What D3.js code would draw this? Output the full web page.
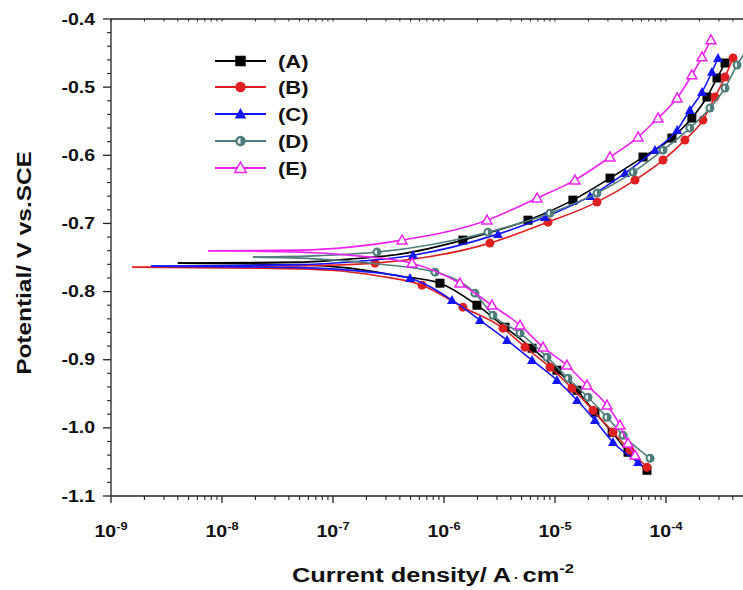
<!DOCTYPE html>
<html>
<head>
<meta charset="utf-8">
<script src="https://cdn.jsdelivr.net/npm/d3@7"></script>
<style>
  html, body { margin: 0; padding: 0; background: #fff; }
  svg { display: block; }
  text { font-family: "Liberation Sans", Arial, sans-serif; font-weight: bold; fill: #111; }
</style>
</head>
<body>
<div id="chart"></div>
<script>
// ---------------- DATA ----------------
const seriesLabels = ["(A)", "(B)", "(C)", "(D)", "(E)"];
const seriesColors = ["#000000", "#e02020", "#1414ff", "#4f7d7b", "#ee22ee"];
const seriesSymbols = ["square", "circle", "triangle", "halfcircle", "opentriangle"];

const yTicks = [-0.4, -0.5, -0.6, -0.7, -0.8, -0.9, -1.0, -1.1];
const yTickLabels = ["-0.4", "-0.5", "-0.6", "-0.7", "-0.8", "-0.9", "-1.0", "-1.1"];
const xTickExponents = [-9, -8, -7, -6, -5, -4, -3];

// [current density A/cm2, potential V]
const A_tip = [4.0e-9, -0.7583];
const A_cathNear = [[5.05e-8, -0.7605], [1.42e-7, -0.7656], [4.02e-7, -0.7774]];
const A_cath = [[9.2e-7, -0.7877], [1.98e-6, -0.8200], [3.55e-6, -0.8523], [6.21e-6, -0.8831],
  [1.04e-5, -0.9154], [1.58e-5, -0.9448], [2.29e-5, -0.9771], [3.27e-5, -1.0065],
  [4.55e-5, -1.0358], [6.74e-5, -1.0623]];
const A_anodNear = [[5.05e-8, -0.7568], [1.42e-7, -0.7524], [4.02e-7, -0.7451]];
const A_anod = [[1.48e-6, -0.7245], [5.71e-6, -0.6952], [1.45e-5, -0.6658], [3.13e-5, -0.6335],
  [6.21e-5, -0.6026], [1.13e-4, -0.5747], [1.71e-4, -0.5454], [2.34e-4, -0.5145],
  [2.88e-4, -0.4866], [3.40e-4, -0.4646]];

const B_tip = [1.55e-9, -0.7642];
const B_cathNear = [[2.2e-8, -0.7656], [9.4e-8, -0.7686], [2.65e-7, -0.7774]];
const B_cath = [[6.34e-7, -0.7906], [1.48e-6, -0.8229], [3.40e-6, -0.8537], [5.37e-6, -0.8816],
  [9.02e-6, -0.9110], [1.42e-5, -0.9419], [2.20e-5, -0.9742], [3.33e-5, -1.0065],
  [4.74e-5, -1.0329], [6.74e-5, -1.0579]];
const B_anodNear = [[2.2e-8, -0.7627], [9.4e-8, -0.7612]];
const B_anod = [[2.39e-7, -0.7583], [2.59e-6, -0.7289], [8.65e-6, -0.6981], [2.39e-5, -0.6687],
  [5.26e-5, -0.6364], [9.4e-5, -0.6070], [1.48e-4, -0.5777], [2.15e-4, -0.5483],
  [2.76e-4, -0.5145], [3.40e-4, -0.4852], [4.02e-4, -0.4573]];

const C_tip = [2.3e-9, -0.7627];
const C_cathNear = [[5.05e-8, -0.7649], [1.75e-7, -0.7700]];
const C_cath = [[4.94e-7, -0.7803], [1.18e-6, -0.8126], [2.11e-6, -0.8420], [3.70e-6, -0.8714],
  [6.21e-6, -0.9007], [1.04e-5, -0.9301], [1.58e-5, -0.9595], [2.29e-5, -0.9888],
  [3.33e-5, -1.0211], [5.6e-5, -1.0505]];
const C_anodNear = [[5.05e-8, -0.7605], [1.75e-7, -0.7554]];
const C_anod = [[5.26e-7, -0.7466], [3.06e-6, -0.7157], [8.13e-6, -0.6907], [2.07e-5, -0.6599],
  [4.28e-5, -0.6261], [7.96e-5, -0.5924], [1.26e-4, -0.5630], [1.64e-4, -0.5336],
  [2.11e-4, -0.5072], [2.59e-4, -0.4778], [2.94e-4, -0.4573]];

const D_tip = [1.90e-8, -0.7495];
const D_cathNear = [[7.64e-8, -0.7524], [2.65e-7, -0.7598]];
const D_cath = [[8.30e-7, -0.7715], [1.90e-6, -0.8023], [2.76e-6, -0.8347], [4.84e-6, -0.8611],
  [8.47e-6, -0.8963], [1.31e-5, -0.9272], [1.98e-5, -0.9551], [2.94e-5, -0.9844],
  [4.10e-5, -1.0109], [7.18e-5, -1.0446]];
const D_anodNear = [[7.64e-8, -0.7473]];
const D_anod = [[2.49e-7, -0.7421], [2.49e-6, -0.7128], [9.02e-6, -0.6849], [2.39e-5, -0.6555],
  [5.05e-5, -0.6247], [9.4e-5, -0.5924], [1.64e-4, -0.5601], [2.49e-4, -0.5307],
  [3.40e-4, -0.5013], [4.37e-4, -0.4675], [5.48e-4, -0.4426]];

const E_tip = [7.48e-9, -0.7402];
const E_cathNear = [[5.05e-8, -0.7421], [1.75e-7, -0.7480]];
const E_cath = [[5.15e-7, -0.7583], [1.39e-6, -0.7877], [2.70e-6, -0.8200], [4.84e-6, -0.8493],
  [7.80e-6, -0.8816], [1.28e-5, -0.9081], [1.94e-5, -0.9374], [2.94e-5, -0.9668],
  [3.85e-5, -0.9962], [4.55e-5, -1.0226], [5.26e-5, -1.0402]];
const E_anodNear = [[5.05e-8, -0.7392], [1.42e-7, -0.7348]];
const E_anod = [[4.19e-7, -0.7245], [2.44e-6, -0.6952], [6.89e-6, -0.6628], [1.51e-5, -0.6364],
  [3.13e-5, -0.6026], [5.6e-5, -0.5733], [8.47e-5, -0.5454], [1.26e-4, -0.5160],
  [1.71e-4, -0.4822], [2.11e-4, -0.4558], [2.54e-4, -0.4308]];

const allSeries = [
  { tip: A_tip, cn: A_cathNear, c: A_cath, an: A_anodNear, a: A_anod },
  { tip: B_tip, cn: B_cathNear, c: B_cath, an: B_anodNear, a: B_anod },
  { tip: C_tip, cn: C_cathNear, c: C_cath, an: C_anodNear, a: C_anod },
  { tip: D_tip, cn: D_cathNear, c: D_cath, an: D_anodNear, a: D_anod },
  { tip: E_tip, cn: E_cathNear, c: E_cath, an: E_anodNear, a: E_anod }
];

// ---------------- LAYOUT ----------------
const W = 743, H = 590;
const plotLeft = 111, plotTop = 19, plotBottom = 496;
const decade = 111;
const stretch = 1.22; // horizontal text stretch seen in the reference

const svg = d3.select("#chart").append("svg").attr("width", W).attr("height", H);

const x = d3.scaleLog().domain([1e-9, 1e-3]).range([plotLeft, plotLeft + 6 * decade]);
const y = d3.scaleLinear().domain([-0.4, -1.1]).range([plotTop, plotBottom]);

// ---------------- AXES ----------------
const axisColor = "#222";
const xMinor = [];
for (let e = -9; e < -3; e++) for (let m = 2; m <= 9; m++) xMinor.push(m * Math.pow(10, e));
const gx = svg.append("g");
gx.append("line").attr("x1", plotLeft).attr("x2", W + 10).attr("y1", plotBottom).attr("y2", plotBottom)
  .attr("stroke", axisColor).attr("stroke-width", 1.3);
gx.selectAll("line.maj").data(xTickExponents).enter().append("line")
  .attr("x1", d => x(Math.pow(10, d))).attr("x2", d => x(Math.pow(10, d)))
  .attr("y1", plotBottom).attr("y2", plotBottom + 7).attr("stroke", axisColor).attr("stroke-width", 1.3);
gx.selectAll("line.min").data(xMinor).enter().append("line")
  .attr("x1", d => x(d)).attr("x2", d => x(d))
  .attr("y1", plotBottom).attr("y2", plotBottom + 4).attr("stroke", axisColor).attr("stroke-width", 1.1);
// top axis
svg.append("line").attr("x1", plotLeft).attr("x2", W + 10).attr("y1", plotTop).attr("y2", plotTop)
  .attr("stroke", axisColor).attr("stroke-width", 1.3);
svg.selectAll("line.tmin").data(xMinor.concat(xTickExponents.map(e => Math.pow(10, e)))).enter().append("line")
  .attr("x1", d => x(d)).attr("x2", d => x(d))
  .attr("y1", plotTop).attr("y2", plotTop + 2.5).attr("stroke", axisColor).attr("stroke-width", 1);

// x tick labels
const xl = svg.selectAll("text.xt").data(xTickExponents.filter(e => x(Math.pow(10, e)) < W - 10)).enter()
  .append("text")
  .attr("transform", d => `translate(${x(Math.pow(10, d))},537) scale(${stretch},1)`)
  .attr("text-anchor", "middle").attr("font-size", 16);
xl.append("tspan").text("10");
xl.append("tspan").attr("dy", -7).attr("font-size", 10.5).text(d => String(d));

// left axis
const yMinor = d3.range(-0.42, -1.1, -0.02).filter(v => Math.abs(Math.round(v * 10) - v * 10) > 0.01);
svg.append("line").attr("x1", plotLeft).attr("x2", plotLeft).attr("y1", plotTop).attr("y2", plotBottom)
  .attr("stroke", axisColor).attr("stroke-width", 1.3);
svg.selectAll("line.ymaj").data(yTicks).enter().append("line")
  .attr("x1", plotLeft - 8).attr("x2", plotLeft).attr("y1", d => y(d)).attr("y2", d => y(d))
  .attr("stroke", axisColor).attr("stroke-width", 1.3);
svg.selectAll("line.ymin").data(yMinor).enter().append("line")
  .attr("x1", plotLeft - 4).attr("x2", plotLeft).attr("y1", d => y(d)).attr("y2", d => y(d))
  .attr("stroke", axisColor).attr("stroke-width", 1.1);
svg.selectAll("text.yt").data(yTicks).enter().append("text")
  .attr("transform", d => `translate(95,${y(d) + 5.5}) scale(${stretch},1)`)
  .attr("text-anchor", "end")
  .attr("font-size", 16).text((d, i) => yTickLabels[i]);

// axis titles
svg.append("text").attr("transform", `translate(31,263) rotate(-90) scale(${stretch},1)`)
  .attr("text-anchor", "middle").attr("font-size", 20).text("Potential/ V vs.SCE");
const xt = svg.append("text").attr("transform", `translate(433,582) scale(1.27,1)`)
  .attr("text-anchor", "middle").attr("font-size", 20);
xt.append("tspan").text("Current density/ A");
xt.append("tspan").attr("font-size", 12).attr("dx", 2).text("·");
xt.append("tspan").attr("font-size", 20).attr("dx", 3).text("cm");
xt.append("tspan").attr("font-size", 13).attr("dy", -9).text("-2");

// ---------------- SYMBOLS ----------------
function drawSymbol(g, kind, color, cx, cy, s) {
  if (kind === "square") {
    g.append("rect").attr("x", cx - s / 2).attr("y", cy - s / 2).attr("width", s).attr("height", s)
      .attr("fill", color);
  } else if (kind === "circle") {
    g.append("circle").attr("cx", cx).attr("cy", cy).attr("r", s / 2).attr("fill", color);
  } else if (kind === "triangle" || kind === "opentriangle") {
    const h = s * 0.95;
    const p = `M${cx},${cy - h * 0.6}L${cx + s * 0.55},${cy + h * 0.45}L${cx - s * 0.55},${cy + h * 0.45}Z`;
    if (kind === "triangle") g.append("path").attr("d", p).attr("fill", color);
    else g.append("path").attr("d", p).attr("fill", "#fff").attr("stroke", color).attr("stroke-width", 1.5);
  } else if (kind === "halfcircle") {
    const r = s / 2;
    g.append("circle").attr("cx", cx).attr("cy", cy).attr("r", r).attr("fill", color);
    g.append("path").attr("d", `M${cx},${cy - r * 0.55}A${r * 0.55},${r * 0.55} 0 0 0 ${cx},${cy + r * 0.55}Z`)
      .attr("fill", "#e8f0ef");
  }
}

// ---------------- CURVES ----------------
const line = d3.line().x(d => x(d[0])).y(d => y(d[1])).curve(d3.curveMonotoneX);
const plot = svg.append("g");
allSeries.forEach((s, k) => {
  const g = plot.append("g");
  const color = seriesColors[k];
  const cath = [s.tip].concat(s.cn, s.c);
  const anod = [s.tip].concat(s.an, s.a);
  [cath, anod].forEach(br => {
    g.append("path").attr("d", line(br)).attr("fill", "none")
      .attr("stroke", color).attr("stroke-width", 1.6);
  });
  s.c.concat(s.a).forEach(p => drawSymbol(g, seriesSymbols[k], color, x(p[0]), y(p[1]), 9));
});

// ---------------- LEGEND ----------------
const legendY = [61, 87, 114, 141, 168];
seriesLabels.forEach((lab, k) => {
  const g = svg.append("g");
  g.append("line").attr("x1", 215).attr("x2", 266).attr("y1", legendY[k]).attr("y2", legendY[k])
    .attr("stroke", seriesColors[k]).attr("stroke-width", 2);
  drawSymbol(g, seriesSymbols[k], seriesColors[k], 240.5, legendY[k], 10.5);
  g.append("text").attr("transform", `translate(278,${legendY[k] + 6.5}) scale(${stretch},1)`)
    .attr("font-size", 18).text(lab);
});
</script>
</body>
</html>
